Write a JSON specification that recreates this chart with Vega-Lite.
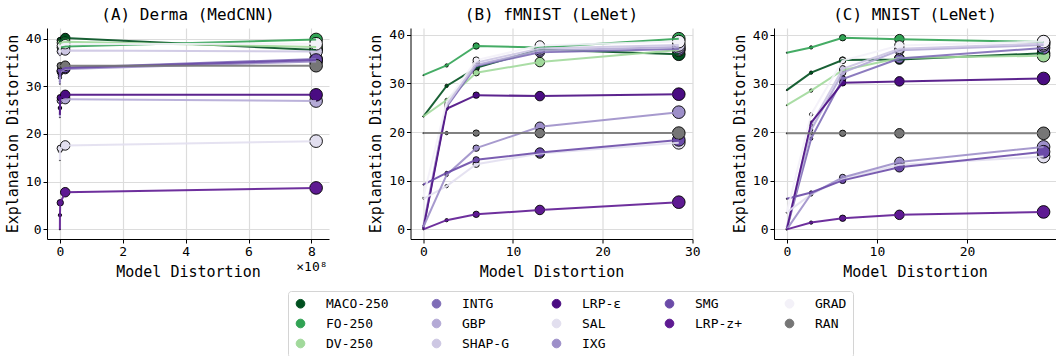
{
  "$schema": "https://vega.github.io/schema/vega-lite/v6.json",
  "padding": {"left": 5, "top": 7, "right": 0, "bottom": 0},
  "background": "white",
  "config": {
    "font": "DejaVu Sans Mono",
    "view": {"stroke": null},
    "axis": {
      "labelFont": "DejaVu Sans Mono",
      "labelFontSize": 13,
      "labelColor": "black",
      "titleFont": "DejaVu Sans Mono",
      "titleFontSize": 15,
      "titleFontWeight": "normal",
      "titleColor": "black",
      "domainColor": "black",
      "domainWidth": 1,
      "tickColor": "black",
      "tickWidth": 1,
      "tickSize": 4,
      "labelPadding": 2,
      "gridColor": "#dcdcdc",
      "gridWidth": 1.2,
      "labelFlush": false,
      "labelOverlap": false
    },
    "legend": {
      "direction": "horizontal",
      "columns": 5,
      "symbolType": "circle",
      "symbolSize": 75,
      "symbolStrokeColor": "black",
      "symbolStrokeWidth": 1,
      "symbolOpacity": 1,
      "labelFont": "DejaVu Sans Mono",
      "labelFontSize": 13,
      "labelColor": "black",
      "labelOffset": 19,
      "rowPadding": 6,
      "columnPadding": 41,
      "padding": 6,
      "strokeColor": "#d4d4d4",
      "fillColor": "white",
      "cornerRadius": 3
    },
    "title": {"font": "DejaVu Sans Mono", "fontSize": 16, "fontWeight": "normal", "color": "black", "offset": 5}
  },
  "datasets": {
    "runs": [
      {"panel": "A", "method": "MACO-250", "level": 0, "md": 0, "ed": 39.0},
      {"panel": "A", "method": "MACO-250", "level": 1, "md": 150000, "ed": 39.3},
      {"panel": "A", "method": "MACO-250", "level": 2, "md": 1200000, "ed": 39.6},
      {"panel": "A", "method": "MACO-250", "level": 3, "md": 17000000, "ed": 40.1},
      {"panel": "A", "method": "MACO-250", "level": 4, "md": 815000000, "ed": 37.6},
      {"panel": "A", "method": "FO-250", "level": 0, "md": 0, "ed": 37.8},
      {"panel": "A", "method": "FO-250", "level": 1, "md": 150000, "ed": 38.0},
      {"panel": "A", "method": "FO-250", "level": 2, "md": 1200000, "ed": 38.1},
      {"panel": "A", "method": "FO-250", "level": 3, "md": 17000000, "ed": 38.3},
      {"panel": "A", "method": "FO-250", "level": 4, "md": 815000000, "ed": 39.8},
      {"panel": "A", "method": "DV-250", "level": 0, "md": 0, "ed": 38.5},
      {"panel": "A", "method": "DV-250", "level": 1, "md": 150000, "ed": 38.9},
      {"panel": "A", "method": "DV-250", "level": 2, "md": 1200000, "ed": 39.1},
      {"panel": "A", "method": "DV-250", "level": 3, "md": 17000000, "ed": 39.3},
      {"panel": "A", "method": "DV-250", "level": 4, "md": 815000000, "ed": 38.2},
      {"panel": "A", "method": "INTG", "level": 0, "md": 0, "ed": 31.0},
      {"panel": "A", "method": "INTG", "level": 1, "md": 150000, "ed": 32.3},
      {"panel": "A", "method": "INTG", "level": 2, "md": 1200000, "ed": 33.2},
      {"panel": "A", "method": "INTG", "level": 3, "md": 17000000, "ed": 33.9},
      {"panel": "A", "method": "INTG", "level": 4, "md": 815000000, "ed": 35.7},
      {"panel": "A", "method": "GBP", "level": 0, "md": 0, "ed": 23.5},
      {"panel": "A", "method": "GBP", "level": 1, "md": 150000, "ed": 25.5},
      {"panel": "A", "method": "GBP", "level": 2, "md": 1200000, "ed": 27.0},
      {"panel": "A", "method": "GBP", "level": 3, "md": 17000000, "ed": 27.3},
      {"panel": "A", "method": "GBP", "level": 4, "md": 815000000, "ed": 26.9},
      {"panel": "A", "method": "SHAP-G", "level": 0, "md": 0, "ed": 36.5},
      {"panel": "A", "method": "SHAP-G", "level": 1, "md": 150000, "ed": 37.0},
      {"panel": "A", "method": "SHAP-G", "level": 2, "md": 1200000, "ed": 37.3},
      {"panel": "A", "method": "SHAP-G", "level": 3, "md": 17000000, "ed": 37.5},
      {"panel": "A", "method": "SHAP-G", "level": 4, "md": 815000000, "ed": 37.3},
      {"panel": "A", "method": "LRP-ε", "level": 0, "md": 0, "ed": 24.0},
      {"panel": "A", "method": "LRP-ε", "level": 1, "md": 150000, "ed": 25.4},
      {"panel": "A", "method": "LRP-ε", "level": 2, "md": 1200000, "ed": 27.6},
      {"panel": "A", "method": "LRP-ε", "level": 3, "md": 17000000, "ed": 28.2},
      {"panel": "A", "method": "LRP-ε", "level": 4, "md": 815000000, "ed": 28.2},
      {"panel": "A", "method": "SAL", "level": 0, "md": 0, "ed": 14.5},
      {"panel": "A", "method": "SAL", "level": 1, "md": 150000, "ed": 16.4},
      {"panel": "A", "method": "SAL", "level": 2, "md": 1200000, "ed": 17.0},
      {"panel": "A", "method": "SAL", "level": 3, "md": 17000000, "ed": 17.6},
      {"panel": "A", "method": "SAL", "level": 4, "md": 815000000, "ed": 18.5},
      {"panel": "A", "method": "IXG", "level": 0, "md": 0, "ed": 30.5},
      {"panel": "A", "method": "IXG", "level": 1, "md": 150000, "ed": 31.8},
      {"panel": "A", "method": "IXG", "level": 2, "md": 1200000, "ed": 33.0},
      {"panel": "A", "method": "IXG", "level": 3, "md": 17000000, "ed": 33.6},
      {"panel": "A", "method": "IXG", "level": 4, "md": 815000000, "ed": 35.2},
      {"panel": "A", "method": "SMG", "level": 0, "md": 0, "ed": 32.0},
      {"panel": "A", "method": "SMG", "level": 1, "md": 150000, "ed": 32.7},
      {"panel": "A", "method": "SMG", "level": 2, "md": 1200000, "ed": 33.3},
      {"panel": "A", "method": "SMG", "level": 3, "md": 17000000, "ed": 33.8},
      {"panel": "A", "method": "SMG", "level": 4, "md": 815000000, "ed": 35.5},
      {"panel": "A", "method": "LRP-z+", "level": 0, "md": 0, "ed": 0.0},
      {"panel": "A", "method": "LRP-z+", "level": 1, "md": 150000, "ed": 3.0},
      {"panel": "A", "method": "LRP-z+", "level": 2, "md": 1200000, "ed": 5.6},
      {"panel": "A", "method": "LRP-z+", "level": 3, "md": 17000000, "ed": 7.8},
      {"panel": "A", "method": "LRP-z+", "level": 4, "md": 815000000, "ed": 8.7},
      {"panel": "A", "method": "GRAD", "level": 0, "md": 0, "ed": 37.0},
      {"panel": "A", "method": "GRAD", "level": 1, "md": 150000, "ed": 38.0},
      {"panel": "A", "method": "GRAD", "level": 2, "md": 1200000, "ed": 38.5},
      {"panel": "A", "method": "GRAD", "level": 3, "md": 17000000, "ed": 38.8},
      {"panel": "A", "method": "GRAD", "level": 4, "md": 815000000, "ed": 38.9},
      {"panel": "A", "method": "RAN", "level": 0, "md": 0, "ed": 34.3},
      {"panel": "A", "method": "RAN", "level": 1, "md": 150000, "ed": 34.3},
      {"panel": "A", "method": "RAN", "level": 2, "md": 1200000, "ed": 34.3},
      {"panel": "A", "method": "RAN", "level": 3, "md": 17000000, "ed": 34.3},
      {"panel": "A", "method": "RAN", "level": 4, "md": 815000000, "ed": 34.3},

      {"panel": "B", "method": "MACO-250", "level": 0, "md": 0, "ed": 23.2},
      {"panel": "B", "method": "MACO-250", "level": 1, "md": 2.6, "ed": 29.5},
      {"panel": "B", "method": "MACO-250", "level": 2, "md": 5.9, "ed": 33.2},
      {"panel": "B", "method": "MACO-250", "level": 3, "md": 13.0, "ed": 37.0},
      {"panel": "B", "method": "MACO-250", "level": 4, "md": 28.5, "ed": 36.0},
      {"panel": "B", "method": "FO-250", "level": 0, "md": 0, "ed": 31.7},
      {"panel": "B", "method": "FO-250", "level": 1, "md": 2.6, "ed": 33.7},
      {"panel": "B", "method": "FO-250", "level": 2, "md": 5.9, "ed": 37.7},
      {"panel": "B", "method": "FO-250", "level": 3, "md": 13.0, "ed": 37.4},
      {"panel": "B", "method": "FO-250", "level": 4, "md": 28.5, "ed": 39.2},
      {"panel": "B", "method": "DV-250", "level": 0, "md": 0, "ed": 23.2},
      {"panel": "B", "method": "DV-250", "level": 1, "md": 2.6, "ed": 26.6},
      {"panel": "B", "method": "DV-250", "level": 2, "md": 5.9, "ed": 32.2},
      {"panel": "B", "method": "DV-250", "level": 3, "md": 13.0, "ed": 34.4},
      {"panel": "B", "method": "DV-250", "level": 4, "md": 28.5, "ed": 36.9},
      {"panel": "B", "method": "INTG", "level": 0, "md": 0, "ed": 0.3},
      {"panel": "B", "method": "INTG", "level": 1, "md": 2.6, "ed": 25.2},
      {"panel": "B", "method": "INTG", "level": 2, "md": 5.9, "ed": 33.6},
      {"panel": "B", "method": "INTG", "level": 3, "md": 13.0, "ed": 36.4},
      {"panel": "B", "method": "INTG", "level": 4, "md": 28.5, "ed": 37.1},
      {"panel": "B", "method": "GBP", "level": 0, "md": 0, "ed": 0.4},
      {"panel": "B", "method": "GBP", "level": 1, "md": 2.6, "ed": 25.8},
      {"panel": "B", "method": "GBP", "level": 2, "md": 5.9, "ed": 33.8},
      {"panel": "B", "method": "GBP", "level": 3, "md": 13.0, "ed": 36.8},
      {"panel": "B", "method": "GBP", "level": 4, "md": 28.5, "ed": 37.5},
      {"panel": "B", "method": "SHAP-G", "level": 0, "md": 0, "ed": 0.8},
      {"panel": "B", "method": "SHAP-G", "level": 1, "md": 2.6, "ed": 25.5},
      {"panel": "B", "method": "SHAP-G", "level": 2, "md": 5.9, "ed": 34.3},
      {"panel": "B", "method": "SHAP-G", "level": 3, "md": 13.0, "ed": 37.2},
      {"panel": "B", "method": "SHAP-G", "level": 4, "md": 28.5, "ed": 37.9},
      {"panel": "B", "method": "LRP-ε", "level": 0, "md": 0, "ed": 0.2},
      {"panel": "B", "method": "LRP-ε", "level": 1, "md": 2.6, "ed": 24.8},
      {"panel": "B", "method": "LRP-ε", "level": 2, "md": 5.9, "ed": 27.6},
      {"panel": "B", "method": "LRP-ε", "level": 3, "md": 13.0, "ed": 27.4},
      {"panel": "B", "method": "LRP-ε", "level": 4, "md": 28.5, "ed": 27.8},
      {"panel": "B", "method": "SAL", "level": 0, "md": 0, "ed": 6.3},
      {"panel": "B", "method": "SAL", "level": 1, "md": 2.6, "ed": 8.9},
      {"panel": "B", "method": "SAL", "level": 2, "md": 5.9, "ed": 13.4},
      {"panel": "B", "method": "SAL", "level": 3, "md": 13.0, "ed": 15.6},
      {"panel": "B", "method": "SAL", "level": 4, "md": 28.5, "ed": 17.8},
      {"panel": "B", "method": "IXG", "level": 0, "md": 0, "ed": 0.5},
      {"panel": "B", "method": "IXG", "level": 1, "md": 2.6, "ed": 11.2},
      {"panel": "B", "method": "IXG", "level": 2, "md": 5.9, "ed": 16.7},
      {"panel": "B", "method": "IXG", "level": 3, "md": 13.0, "ed": 21.1},
      {"panel": "B", "method": "IXG", "level": 4, "md": 28.5, "ed": 24.1},
      {"panel": "B", "method": "SMG", "level": 0, "md": 0, "ed": 9.2},
      {"panel": "B", "method": "SMG", "level": 1, "md": 2.6, "ed": 11.6},
      {"panel": "B", "method": "SMG", "level": 2, "md": 5.9, "ed": 14.3},
      {"panel": "B", "method": "SMG", "level": 3, "md": 13.0, "ed": 15.8},
      {"panel": "B", "method": "SMG", "level": 4, "md": 28.5, "ed": 18.4},
      {"panel": "B", "method": "LRP-z+", "level": 0, "md": 0, "ed": 0.0},
      {"panel": "B", "method": "LRP-z+", "level": 1, "md": 2.6, "ed": 1.9},
      {"panel": "B", "method": "LRP-z+", "level": 2, "md": 5.9, "ed": 3.1},
      {"panel": "B", "method": "LRP-z+", "level": 3, "md": 13.0, "ed": 4.0},
      {"panel": "B", "method": "LRP-z+", "level": 4, "md": 28.5, "ed": 5.6},
      {"panel": "B", "method": "GRAD", "level": 0, "md": 0, "ed": 6.6},
      {"panel": "B", "method": "GRAD", "level": 1, "md": 2.6, "ed": 26.2},
      {"panel": "B", "method": "GRAD", "level": 2, "md": 5.9, "ed": 34.8},
      {"panel": "B", "method": "GRAD", "level": 3, "md": 13.0, "ed": 37.8},
      {"panel": "B", "method": "GRAD", "level": 4, "md": 28.5, "ed": 38.6},
      {"panel": "B", "method": "RAN", "level": 0, "md": 0, "ed": 19.8},
      {"panel": "B", "method": "RAN", "level": 1, "md": 2.6, "ed": 19.8},
      {"panel": "B", "method": "RAN", "level": 2, "md": 5.9, "ed": 19.8},
      {"panel": "B", "method": "RAN", "level": 3, "md": 13.0, "ed": 19.8},
      {"panel": "B", "method": "RAN", "level": 4, "md": 28.5, "ed": 19.8},

      {"panel": "C", "method": "MACO-250", "level": 0, "md": 0, "ed": 28.7},
      {"panel": "C", "method": "MACO-250", "level": 1, "md": 2.7, "ed": 32.3},
      {"panel": "C", "method": "MACO-250", "level": 2, "md": 6.2, "ed": 34.9},
      {"panel": "C", "method": "MACO-250", "level": 3, "md": 12.5, "ed": 35.0},
      {"panel": "C", "method": "MACO-250", "level": 4, "md": 28.5, "ed": 36.3},
      {"panel": "C", "method": "FO-250", "level": 0, "md": 0, "ed": 36.4},
      {"panel": "C", "method": "FO-250", "level": 1, "md": 2.7, "ed": 37.5},
      {"panel": "C", "method": "FO-250", "level": 2, "md": 6.2, "ed": 39.5},
      {"panel": "C", "method": "FO-250", "level": 3, "md": 12.5, "ed": 39.2},
      {"panel": "C", "method": "FO-250", "level": 4, "md": 28.5, "ed": 38.6},
      {"panel": "C", "method": "DV-250", "level": 0, "md": 0, "ed": 25.6},
      {"panel": "C", "method": "DV-250", "level": 1, "md": 2.7, "ed": 28.6},
      {"panel": "C", "method": "DV-250", "level": 2, "md": 6.2, "ed": 32.8},
      {"panel": "C", "method": "DV-250", "level": 3, "md": 12.5, "ed": 35.3},
      {"panel": "C", "method": "DV-250", "level": 4, "md": 28.5, "ed": 35.8},
      {"panel": "C", "method": "INTG", "level": 0, "md": 0, "ed": 0.1},
      {"panel": "C", "method": "INTG", "level": 1, "md": 2.7, "ed": 18.7},
      {"panel": "C", "method": "INTG", "level": 2, "md": 6.2, "ed": 31.0},
      {"panel": "C", "method": "INTG", "level": 3, "md": 12.5, "ed": 35.2},
      {"panel": "C", "method": "INTG", "level": 4, "md": 28.5, "ed": 37.4},
      {"panel": "C", "method": "GBP", "level": 0, "md": 0, "ed": 0.2},
      {"panel": "C", "method": "GBP", "level": 1, "md": 2.7, "ed": 20.5},
      {"panel": "C", "method": "GBP", "level": 2, "md": 6.2, "ed": 32.3},
      {"panel": "C", "method": "GBP", "level": 3, "md": 12.5, "ed": 36.9},
      {"panel": "C", "method": "GBP", "level": 4, "md": 28.5, "ed": 38.0},
      {"panel": "C", "method": "SHAP-G", "level": 0, "md": 0, "ed": 0.5},
      {"panel": "C", "method": "SHAP-G", "level": 1, "md": 2.7, "ed": 21.5},
      {"panel": "C", "method": "SHAP-G", "level": 2, "md": 6.2, "ed": 33.1},
      {"panel": "C", "method": "SHAP-G", "level": 3, "md": 12.5, "ed": 37.2},
      {"panel": "C", "method": "SHAP-G", "level": 4, "md": 28.5, "ed": 38.3},
      {"panel": "C", "method": "LRP-ε", "level": 0, "md": 0, "ed": 0.0},
      {"panel": "C", "method": "LRP-ε", "level": 1, "md": 2.7, "ed": 22.0},
      {"panel": "C", "method": "LRP-ε", "level": 2, "md": 6.2, "ed": 30.2},
      {"panel": "C", "method": "LRP-ε", "level": 3, "md": 12.5, "ed": 30.5},
      {"panel": "C", "method": "LRP-ε", "level": 4, "md": 28.5, "ed": 31.1},
      {"panel": "C", "method": "SAL", "level": 0, "md": 0, "ed": 3.5},
      {"panel": "C", "method": "SAL", "level": 1, "md": 2.7, "ed": 7.2},
      {"panel": "C", "method": "SAL", "level": 2, "md": 6.2, "ed": 10.4},
      {"panel": "C", "method": "SAL", "level": 3, "md": 12.5, "ed": 13.3},
      {"panel": "C", "method": "SAL", "level": 4, "md": 28.5, "ed": 15.0},
      {"panel": "C", "method": "IXG", "level": 0, "md": 0, "ed": 0.0},
      {"panel": "C", "method": "IXG", "level": 1, "md": 2.7, "ed": 7.3},
      {"panel": "C", "method": "IXG", "level": 2, "md": 6.2, "ed": 10.7},
      {"panel": "C", "method": "IXG", "level": 3, "md": 12.5, "ed": 13.9},
      {"panel": "C", "method": "IXG", "level": 4, "md": 28.5, "ed": 17.0},
      {"panel": "C", "method": "SMG", "level": 0, "md": 0, "ed": 6.3},
      {"panel": "C", "method": "SMG", "level": 1, "md": 2.7, "ed": 7.6},
      {"panel": "C", "method": "SMG", "level": 2, "md": 6.2, "ed": 10.1},
      {"panel": "C", "method": "SMG", "level": 3, "md": 12.5, "ed": 12.8},
      {"panel": "C", "method": "SMG", "level": 4, "md": 28.5, "ed": 16.0},
      {"panel": "C", "method": "LRP-z+", "level": 0, "md": 0, "ed": 0.0},
      {"panel": "C", "method": "LRP-z+", "level": 1, "md": 2.7, "ed": 1.4},
      {"panel": "C", "method": "LRP-z+", "level": 2, "md": 6.2, "ed": 2.3},
      {"panel": "C", "method": "LRP-z+", "level": 3, "md": 12.5, "ed": 3.0},
      {"panel": "C", "method": "LRP-z+", "level": 4, "md": 28.5, "ed": 3.6},
      {"panel": "C", "method": "GRAD", "level": 0, "md": 0, "ed": 3.5},
      {"panel": "C", "method": "GRAD", "level": 1, "md": 2.7, "ed": 23.7},
      {"panel": "C", "method": "GRAD", "level": 2, "md": 6.2, "ed": 34.8},
      {"panel": "C", "method": "GRAD", "level": 3, "md": 12.5, "ed": 37.9},
      {"panel": "C", "method": "GRAD", "level": 4, "md": 28.5, "ed": 38.7},
      {"panel": "C", "method": "RAN", "level": 0, "md": 0, "ed": 19.8},
      {"panel": "C", "method": "RAN", "level": 1, "md": 2.7, "ed": 19.8},
      {"panel": "C", "method": "RAN", "level": 2, "md": 6.2, "ed": 19.8},
      {"panel": "C", "method": "RAN", "level": 3, "md": 12.5, "ed": 19.8},
      {"panel": "C", "method": "RAN", "level": 4, "md": 28.5, "ed": 19.8}
    ]
  },
  "data": {"name": "runs"},
  "bounds": "flush",
  "spacing": 81.5,
  "hconcat": [
    {
      "width": 282,
      "height": 211,
      "title": {"text": "(A) Derma (MedCNN)", "fontWeight": "normal"},
      "transform": [{"filter": "datum.panel == 'A'"}],
      "encoding": {
        "x": {"field": "md", "type": "quantitative",
              "scale": {"domain": [-41000000, 856000000], "nice": false, "zero": false},
              "axis": {"title": "Model Distortion", "values": [0, 200000000, 400000000, 600000000, 800000000],
                       "labelExpr": "datum.value == 800000000 ? ['8', '×10⁸'] : format(datum.value / 100000000, 'd')",
                       "titleY": 25, "titleBaseline": "top"}},
        "y": {"field": "ed", "type": "quantitative",
              "scale": {"domain": [-2.0, 42.2], "nice": false, "zero": false},
              "axis": {"title": "Explanation Distortion", "values": [0, 10, 20, 30, 40], "titlePadding": 5}}
      },
      "layer": [
        {"mark": {"type": "point", "shape": "circle", "filled": true, "stroke": "black", "strokeWidth": 0.9, "opacity": 1},
         "encoding": {
           "fill": {"field": "method", "type": "nominal",
                    "scale": {"domain": ["MACO-250", "INTG", "LRP-ε", "SMG", "GRAD", "FO-250", "GBP", "SAL", "LRP-z+", "RAN", "DV-250", "SHAP-G", "IXG"],
                              "range": ["#00501f", "#7f6db7", "#4a0c82", "#6b4ba8", "#f3f1f8", "#31a354", "#b4aad6", "#e2dfef", "#5e1a92", "#767676", "#a1d99b", "#cdc7e3", "#9d8fc9"]},
                    "legend": {"orient": "none", "legendX": 241, "legendY": 263, "title": null}},
           "size": {"field": "level", "type": "quantitative", "legend": null,
                    "scale": {"type": "pow", "exponent": 2, "domain": [0, 4], "range": [1, 160]}}
         }},
        {"mark": {"type": "line", "strokeWidth": 2, "opacity": 0.9},
         "encoding": {
           "stroke": {"field": "method", "type": "nominal", "legend": null,
                      "scale": {"domain": ["MACO-250", "INTG", "LRP-ε", "SMG", "GRAD", "FO-250", "GBP", "SAL", "LRP-z+", "RAN", "DV-250", "SHAP-G", "IXG"],
                                "range": ["#00501f", "#7f6db7", "#4a0c82", "#6b4ba8", "#f3f1f8", "#31a354", "#b4aad6", "#e2dfef", "#5e1a92", "#767676", "#a1d99b", "#cdc7e3", "#9d8fc9"]}},
           "order": {"field": "level"}
         }}
      ]
    },
    {
      "width": 282,
      "height": 211,
      "title": {"text": "(B) fMNIST (LeNet)", "fontWeight": "normal"},
      "transform": [{"filter": "datum.panel == 'B'"}],
      "encoding": {
        "x": {"field": "md", "type": "quantitative",
              "scale": {"domain": [-1.43, 30.03], "nice": false, "zero": false},
              "axis": {"title": "Model Distortion", "values": [0, 10, 20, 30], "titleY": 25, "titleBaseline": "top"}},
        "y": {"field": "ed", "type": "quantitative",
              "scale": {"domain": [-1.97, 41.4], "nice": false, "zero": false},
              "axis": {"title": "Explanation Distortion", "values": [0, 10, 20, 30, 40], "titlePadding": 5}}
      },
      "layer": [
        {"mark": {"type": "point", "shape": "circle", "filled": true, "stroke": "black", "strokeWidth": 0.9, "opacity": 1},
         "encoding": {
           "fill": {"field": "method", "type": "nominal",
                    "scale": {"domain": ["MACO-250", "INTG", "LRP-ε", "SMG", "GRAD", "FO-250", "GBP", "SAL", "LRP-z+", "RAN", "DV-250", "SHAP-G", "IXG"],
                              "range": ["#00501f", "#7f6db7", "#4a0c82", "#6b4ba8", "#f3f1f8", "#31a354", "#b4aad6", "#e2dfef", "#5e1a92", "#767676", "#a1d99b", "#cdc7e3", "#9d8fc9"]},
                    "legend": {"orient": "none", "legendX": 241, "legendY": 263, "title": null}},
           "size": {"field": "level", "type": "quantitative", "legend": null,
                    "scale": {"type": "pow", "exponent": 2, "domain": [0, 4], "range": [1, 160]}}
         }},
        {"mark": {"type": "line", "strokeWidth": 2, "opacity": 0.9},
         "encoding": {
           "stroke": {"field": "method", "type": "nominal", "legend": null,
                      "scale": {"domain": ["MACO-250", "INTG", "LRP-ε", "SMG", "GRAD", "FO-250", "GBP", "SAL", "LRP-z+", "RAN", "DV-250", "SHAP-G", "IXG"],
                                "range": ["#00501f", "#7f6db7", "#4a0c82", "#6b4ba8", "#f3f1f8", "#31a354", "#b4aad6", "#e2dfef", "#5e1a92", "#767676", "#a1d99b", "#cdc7e3", "#9d8fc9"]}},
           "order": {"field": "level"}
         }}
      ]
    },
    {
      "width": 282,
      "height": 211,
      "title": {"text": "(C) MNIST (LeNet)", "fontWeight": "normal"},
      "transform": [{"filter": "datum.panel == 'C'"}],
      "encoding": {
        "x": {"field": "md", "type": "quantitative",
              "scale": {"domain": [-1.42, 29.88], "nice": false, "zero": false},
              "axis": {"title": "Model Distortion", "values": [0, 10, 20], "titleY": 25, "titleBaseline": "top"}},
        "y": {"field": "ed", "type": "quantitative",
              "scale": {"domain": [-1.98, 41.5], "nice": false, "zero": false},
              "axis": {"title": "Explanation Distortion", "values": [0, 10, 20, 30, 40], "titlePadding": 5}}
      },
      "layer": [
        {"mark": {"type": "point", "shape": "circle", "filled": true, "stroke": "black", "strokeWidth": 0.9, "opacity": 1},
         "encoding": {
           "fill": {"field": "method", "type": "nominal",
                    "scale": {"domain": ["MACO-250", "INTG", "LRP-ε", "SMG", "GRAD", "FO-250", "GBP", "SAL", "LRP-z+", "RAN", "DV-250", "SHAP-G", "IXG"],
                              "range": ["#00501f", "#7f6db7", "#4a0c82", "#6b4ba8", "#f3f1f8", "#31a354", "#b4aad6", "#e2dfef", "#5e1a92", "#767676", "#a1d99b", "#cdc7e3", "#9d8fc9"]},
                    "legend": {"orient": "none", "legendX": 241, "legendY": 263, "title": null}},
           "size": {"field": "level", "type": "quantitative", "legend": null,
                    "scale": {"type": "pow", "exponent": 2, "domain": [0, 4], "range": [1, 160]}}
         }},
        {"mark": {"type": "line", "strokeWidth": 2, "opacity": 0.9},
         "encoding": {
           "stroke": {"field": "method", "type": "nominal", "legend": null,
                      "scale": {"domain": ["MACO-250", "INTG", "LRP-ε", "SMG", "GRAD", "FO-250", "GBP", "SAL", "LRP-z+", "RAN", "DV-250", "SHAP-G", "IXG"],
                                "range": ["#00501f", "#7f6db7", "#4a0c82", "#6b4ba8", "#f3f1f8", "#31a354", "#b4aad6", "#e2dfef", "#5e1a92", "#767676", "#a1d99b", "#cdc7e3", "#9d8fc9"]}},
           "order": {"field": "level"}
         }}
      ]
    }
  ]
}
